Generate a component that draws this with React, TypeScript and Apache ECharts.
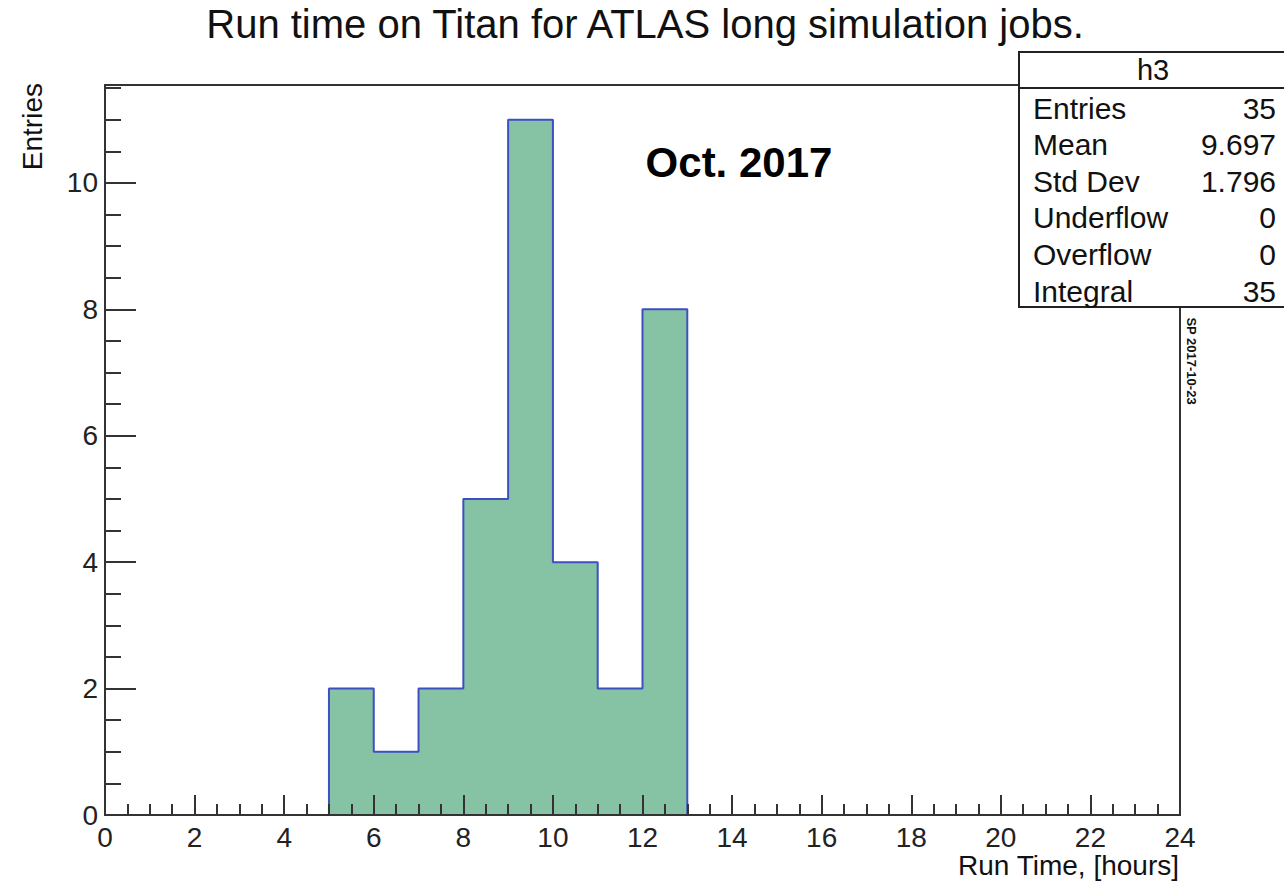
import React, { useEffect, useRef } from "react";
import * as echarts from "echarts";

const binEdges = [5, 6, 7, 8, 9, 10, 11, 12, 13];
const counts = [2, 1, 2, 5, 11, 4, 2, 8];
const xTickLabels = [0, 2, 4, 6, 8, 10, 12, 14, 16, 18, 20, 22, 24];
const yMajorTicks = [0, 2, 4, 6, 8, 10];
const yMinorTicks = [0.5, 1, 1.5, 2.5, 3, 3.5, 4.5, 5, 5.5, 6.5, 7, 7.5, 8.5, 9, 9.5, 10.5, 11, 11.5];
const statNames = ["Entries", "Mean", "Std Dev", "Underflow", "Overflow", "Integral"];
const statValues = ["35", "9.697", "1.796", "0", "0", "35"];

const title = "Run time on Titan for ATLAS long simulation jobs.";
const xTitle = "Run Time, [hours]";
const yTitle = "Entries";
const annotation = "Oct. 2017";
const stamp = "SP 2017-10-23";
const histName = "h3";

const FONT = "'Liberation Sans', Arial, Helvetica, sans-serif";
const AXIS_COLOR = "#333";

export default function App() {
  const ref = useRef<HTMLDivElement>(null);
  useEffect(() => {
    if (!ref.current) return;
    const chart = echarts.init(ref.current, null, { renderer: "svg" });

    const outline: number[][] = [[binEdges[0], 0]];
    counts.forEach((c, i) => {
      outline.push([binEdges[i], c]);
      outline.push([binEdges[i + 1], c]);
    });
    outline.push([binEdges[binEdges.length - 1], 0]);

    const statsGraphics: any[] = [
      {
        type: "rect",
        z: 100,
        shape: { x: 1019, y: 52, width: 280, height: 255 },
        style: { fill: "#fff", stroke: "#222", lineWidth: 2 },
      },
      {
        type: "line",
        z: 101,
        shape: { x1: 1019, y1: 88, x2: 1299, y2: 88 },
        style: { stroke: "#222", lineWidth: 2 },
      },
      {
        type: "text",
        z: 101,
        x: 1153,
        y: 70,
        style: { text: histName, font: `29px ${FONT}`, fill: "#111", align: "center", verticalAlign: "middle" },
      },
    ];
    statNames.forEach((n, i) => {
      const y = 108 + i * 36.6;
      statsGraphics.push({
        type: "text",
        z: 101,
        x: 1033,
        y,
        style: { text: n, font: `30px ${FONT}`, fill: "#111", align: "left", verticalAlign: "middle" },
      });
      statsGraphics.push({
        type: "text",
        z: 101,
        x: 1276,
        y,
        style: { text: statValues[i], font: `30px ${FONT}`, fill: "#111", align: "right", verticalAlign: "middle" },
      });
    });

    const option: any = {
      animation: false,
      backgroundColor: "#fff",
      grid: {
        left: 105,
        right: 104,
        top: 85,
        bottom: 69,
        show: true,
        borderColor: AXIS_COLOR,
        borderWidth: 2,
        backgroundColor: "transparent",
      },
      xAxis: {
        type: "value",
        min: 0,
        max: 24,
        interval: 2,
        z: 5,
        axisLine: { show: true, onZero: false, lineStyle: { color: AXIS_COLOR, width: 2 } },
        axisTick: { show: true, inside: true, length: 20, lineStyle: { color: AXIS_COLOR, width: 2 } },
        minorTick: { show: true, splitNumber: 4, length: 11, lineStyle: { color: AXIS_COLOR, width: 2 } },
        splitLine: { show: false },
        axisLabel: {
          show: true,
          margin: 8,
          fontFamily: FONT,
          fontSize: 28,
          color: "#222",
          customValues: xTickLabels,
          formatter: (v: number) => String(v),
        },
      },
      yAxis: [
        {
          type: "value",
          min: 0,
          max: 11.55,
          z: 5,
          axisLine: { show: true, onZero: false, lineStyle: { color: AXIS_COLOR, width: 2 } },
          axisTick: { show: true, inside: true, length: 31, customValues: yMajorTicks, lineStyle: { color: AXIS_COLOR, width: 2 } },
          splitLine: { show: false },
          axisLabel: {
            show: true,
            margin: 7,
            fontFamily: FONT,
            fontSize: 28,
            color: "#222",
            customValues: yMajorTicks,
            formatter: (v: number) => String(v),
          },
        },
        {
          type: "value",
          min: 0,
          max: 11.55,
          position: "left",
          z: 5,
          axisLine: { show: false },
          axisTick: { show: true, inside: true, length: 16, customValues: yMinorTicks, lineStyle: { color: AXIS_COLOR, width: 2 } },
          splitLine: { show: false },
          axisLabel: { show: false },
        },
      ],
      series: [
        {
          type: "line",
          data: outline,
          yAxisIndex: 0,
          symbol: "none",
          z: 2,
          lineStyle: { color: "#3f4fc2", width: 2 },
          areaStyle: { color: "#85c3a4", opacity: 1, origin: 0 },
        },
      ],
      graphic: [
        {
          type: "text",
          x: 645,
          y: 24,
          style: { text: title, font: `40px ${FONT}`, fill: "#111", align: "center", verticalAlign: "middle" },
        },
        {
          type: "text",
          x: 739,
          y: 162,
          style: { text: annotation, font: `bold 42px ${FONT}`, fill: "#000", align: "center", verticalAlign: "middle" },
        },
        {
          type: "text",
          x: 32,
          y: 83,
          rotation: Math.PI / 2,
          style: { text: yTitle, font: `28px ${FONT}`, fill: "#111", align: "right", verticalAlign: "middle" },
        },
        {
          type: "text",
          x: 1179,
          y: 865,
          style: { text: xTitle, font: `28px ${FONT}`, fill: "#111", align: "right", verticalAlign: "middle" },
        },
        {
          type: "text",
          x: 1191,
          y: 361,
          rotation: -Math.PI / 2,
          style: { text: stamp, font: `bold 13px ${FONT}`, fill: "#111", align: "center", verticalAlign: "middle" },
        },
        ...statsGraphics,
      ],
    };
    chart.setOption(option);
    return () => chart.dispose();
  }, []);
  return (
    <div
      ref={ref}
      style={{ position: "absolute", left: 0, top: 0, width: 1284, height: 884 }}
    />
  );
}
